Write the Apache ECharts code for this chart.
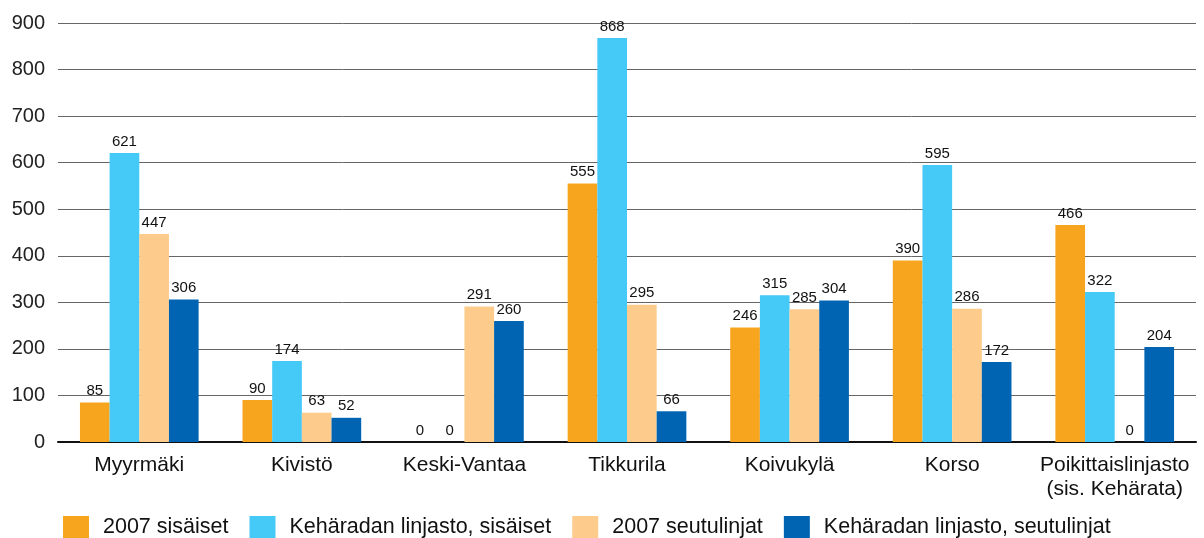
<!DOCTYPE html>
<html><head><meta charset="utf-8">
<script src="https://cdn.jsdelivr.net/npm/echarts@6/dist/echarts.min.js"></script>
<style>html,body{margin:0;padding:0;background:#fff}#c{width:1204px;height:538px}</style>
</head><body><div id="c"></div>
<script>
const categories = ['Myyrmäki','Kivistö','Keski-Vantaa','Tikkurila','Koivukylä','Korso','Poikittaislinjasto\n(sis. Kehärata)'];
const seriesNames = ['2007 sisäiset','Kehäradan linjasto, sisäiset','2007 seutulinjat','Kehäradan linjasto, seutulinjat'];
const s2007Sis = [85, 90, 0, 555, 246, 390, 466];
const sKehSis = [621, 174, 0, 868, 315, 595, 322];
const s2007Seu = [447, 63, 291, 295, 285, 286, 0];
const sKehSeu = [306, 52, 260, 66, 304, 172, 204];
const colors = ['#F7A51E','#45C9F6','#FDCC8D','#0064B3'];
const yTicks = {min:0, max:900, interval:100};

const chart = echarts.init(document.getElementById('c'), null, {renderer:'canvas'});
const data = [s2007Sis, sKehSis, s2007Seu, sKehSeu];
chart.setOption({
  animation:false,
  color: colors,
  grid:{left:58, right:8, top:23, bottom:96, containLabel:false},
  legend:{
    left:58, top:511, itemWidth:26, itemHeight:22, itemGap:21,
    icon:'rect',
    textStyle:{fontFamily:'Liberation Sans, Arial', fontSize:21.5, color:'#111', padding:[0,0,0,9]},
    data: seriesNames
  },
  xAxis:{
    type:'category', data:categories,
    axisLine:{lineStyle:{color:'#111', width:2}},
    axisTick:{show:false},
    axisLabel:{fontFamily:'Liberation Sans, Arial', fontSize:21, color:'#111', margin:11, lineHeight:24, interval:0}
  },
  yAxis:{
    type:'value', min:yTicks.min, max:yTicks.max, interval:yTicks.interval,
    axisLine:{show:false}, axisTick:{show:false},
    axisLabel:{fontFamily:'Liberation Sans, Arial', fontSize:20, color:'#222', margin:13},
    splitLine:{lineStyle:{color:'#666', width:1}}
  },
  series: seriesNames.map((n,i)=>({
    name:n, type:'bar', data:data[i],
    barGap:'0%', barCategoryGap:'27%',
    label:{show:true, position:'top', distance:4,
      fontFamily:'Liberation Sans Narrow, Arial Narrow, Liberation Sans', fontSize:15, color:'#111'}
  }))
});
</script></body></html>
